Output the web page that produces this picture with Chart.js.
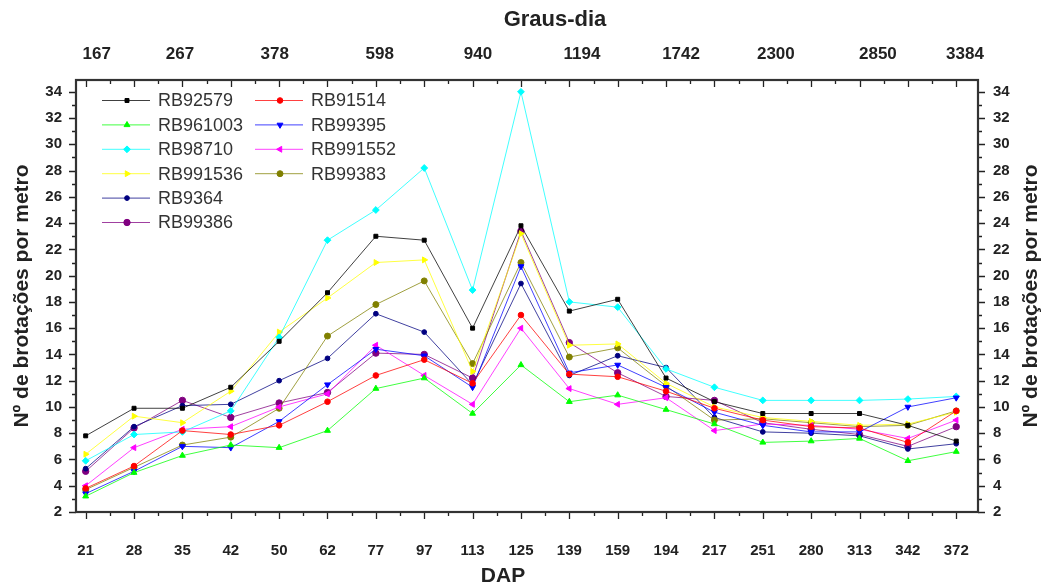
<!DOCTYPE html>
<html>
<head>
<meta charset="utf-8">
<script src="https://cdn.jsdelivr.net/npm/chart.js@4.4.1/dist/chart.umd.min.js"></script>
<style>
  html, body { margin: 0; padding: 0; background: #fff; }
  #wrap { width: 1043px; height: 588px; }
</style>
</head>
<body>
<div id="wrap"><canvas id="chart" width="1043" height="588"></canvas></div>
<script>
// DAP categories (bottom axis)
const dap = ['21', '28', '35', '42', '50', '62', '77', '97', '113', '125', '139', '159', '194', '217', '251', '280', '313', '342', '372'];

// Graus-dia labels (top axis) and where they fall along the DAP index axis
const grausDia = ['167', '267', '378', '598', '940', '1194', '1742', '2300', '2850', '3384'];
const grausAt = [0.23, 1.95, 3.91, 6.08, 8.11, 10.26, 12.31, 14.27, 16.38, 18.18];

// Nº de brotações por metro, one array per clone
const rb92579  = [7.8, 9.9, 9.9, 11.5, 15.0, 18.7, 23.0, 22.7, 16.0, 23.8, 17.3, 18.2, 12.2, 10.4, 9.5, 9.5, 9.5, 8.6, 7.4];
const rb91514  = [3.8, 5.5, 8.2, 7.9, 8.6, 10.4, 12.4, 13.6, 11.8, 17.0, 12.5, 12.3, 11.2, 9.9, 9.0, 8.5, 8.4, 7.3, 9.7];
const rb961003 = [3.2, 5.0, 6.3, 7.1, 6.9, 8.2, 11.4, 12.2, 9.5, 13.2, 10.4, 10.9, 9.8, 8.7, 7.3, 7.4, 7.6, 5.9, 6.6];
const rb99395  = [3.4, 5.1, 7.0, 6.9, 8.9, 11.7, 14.4, 13.9, 11.5, 20.7, 12.6, 13.2, 11.5, 9.6, 8.6, 8.1, 8.1, 10.0, 10.7];
const rb98710  = [5.9, 7.9, 8.1, 9.7, 15.3, 22.7, 25.0, 28.2, 18.9, 34.0, 18.0, 17.6, 12.9, 11.5, 10.5, 10.5, 10.5, 10.6, 10.8];
const rb991552 = [4.0, 6.9, 8.3, 8.5, 10.0, 11.0, 14.7, 12.4, 10.2, 16.0, 11.4, 10.2, 10.7, 8.2, 8.7, 8.6, 8.3, 7.6, 9.0];
const rb991536 = [6.4, 9.3, 8.8, 11.2, 15.7, 18.3, 21.0, 21.2, 12.7, 23.2, 14.7, 14.8, 11.8, 10.0, 9.2, 8.9, 8.6, 8.7, 9.6];
const rb99383  = [3.7, 5.4, 7.1, 7.7, 9.9, 15.4, 17.8, 19.6, 13.3, 21.0, 13.8, 14.5, 11.6, 9.0, 9.1, 8.8, 8.5, 8.6, 9.7];
const rb9364   = [5.3, 8.5, 10.1, 10.2, 12.0, 13.7, 17.1, 15.7, 11.7, 19.4, 12.4, 13.9, 13.0, 9.2, 8.1, 8.0, 7.8, 6.8, 7.2];
const rb99386  = [5.1, 8.4, 10.5, 9.2, 10.3, 11.1, 14.1, 14.0, 12.2, 23.4, 14.9, 12.6, 10.8, 10.5, 8.8, 8.3, 7.9, 7.0, 8.5];

// series in legend order (row by row)
const series = [
  { name: 'RB92579',  data: rb92579,  color: '#000000', style: 'rect',     rot: 0,   r: 2.8 },
  { name: 'RB91514',  data: rb91514,  color: '#ff0000', style: 'circle',   rot: 0,   r: 2.8 },
  { name: 'RB961003', data: rb961003, color: '#00ff00', style: 'triangle', rot: 0,   r: 3.4 },
  { name: 'RB99395',  data: rb99395,  color: '#0000ff', style: 'triangle', rot: 180, r: 3.4 },
  { name: 'RB98710',  data: rb98710,  color: '#00ffff', style: 'rectRot',  rot: 0,   r: 3.4 },
  { name: 'RB991552', data: rb991552, color: '#ff00ff', style: 'triangle', rot: -90, r: 3.4 },
  { name: 'RB991536', data: rb991536, color: '#ffff00', style: 'triangle', rot: 90,  r: 3.4 },
  { name: 'RB99383',  data: rb99383,  color: '#808000', style: 'circle',   rot: 0,   r: 3.0 },
  { name: 'RB9364',   data: rb9364,   color: '#000080', style: 'circle',   rot: 0,   r: 2.4 },
  { name: 'RB99386',  data: rb99386,  color: '#800080', style: 'circle',   rot: 0,   r: 3.2 }
];

const FONT = "'Liberation Sans', Arial, sans-serif";
const INK = '#222222';
const X_MIN = -0.2, X_MAX = 18.45;
const Y_MIN = 2, Y_MAX = 34.9;
const yTitle = 'Nº de brotações por metro';

function lineColor(hex) {
  const n = parseInt(hex.slice(1), 16);
  return `rgba(${n >> 16}, ${(n >> 8) & 255}, ${n & 255}, 0.75)`;
}

// frame, tick marks and axis titles
const frameTicks = {
  id: 'frameTicks',
  afterDraw(chart) {
    const { ctx, chartArea: a, scales } = chart;
    const x = scales.x, y = scales.y;
    ctx.save();
    ctx.strokeStyle = INK;
    ctx.lineWidth = 1.3;
    ctx.beginPath();
    for (let i = 0; i < dap.length; i++) {
      const steps = i < dap.length - 1 ? [[i, 7], [i + 0.5, 4]] : [[i, 7]];
      steps.forEach(([v, len]) => {
        const px = Math.round(x.getPixelForValue(v)) + 0.5;
        ctx.moveTo(px, a.bottom); ctx.lineTo(px, a.bottom + len);
        ctx.moveTo(px, a.top); ctx.lineTo(px, a.top + len);
      });
    }
    for (let v = Y_MIN; v <= 34; v++) {
      const len = v % 2 === 0 ? 7 : 4;
      const py = Math.round(y.getPixelForValue(v)) + 0.5;
      ctx.moveTo(a.left, py); ctx.lineTo(a.left - len, py);
      ctx.moveTo(a.right, py); ctx.lineTo(a.right + len, py);
    }
    ctx.stroke();
    ctx.lineWidth = 2.2;
    ctx.strokeStyle = '#333333';
    ctx.strokeRect(a.left, a.top, a.right - a.left, a.bottom - a.top);

    ctx.fillStyle = INK;
    ctx.textAlign = 'center';
    ctx.textBaseline = 'middle';
    ctx.font = 'bold 22px ' + FONT;
    ctx.fillText('Graus-dia', 555, 20);
    ctx.font = 'bold 21px ' + FONT;
    ctx.fillText('DAP', 503, 576);

    ctx.font = 'bold 21px ' + FONT;
    const midY = (a.top + a.bottom) / 2;
    [22, 1031].forEach(tx => {
      ctx.save();
      ctx.translate(tx, midY);
      ctx.rotate(-Math.PI / 2);
      ctx.fillText(yTitle, 0, 0);
      ctx.restore();
    });
    ctx.restore();
  }
};

// legend box in two columns, like the original
const legendBox = {
  id: 'legendBox',
  afterDatasetsDraw(chart) {
    const ctx = chart.ctx;
    ctx.save();
    ctx.font = '18px ' + FONT;
    ctx.textBaseline = 'middle';
    ctx.textAlign = 'left';
    series.forEach((s, i) => {
      const col = i < 8 ? i % 2 : 0;
      const row = i < 8 ? Math.floor(i / 2) : i - 4;
      const x0 = col === 0 ? 102 : 255;
      const yy = 100.5 + row * 24.4;
      ctx.strokeStyle = lineColor(s.color);
      ctx.lineWidth = 1;
      ctx.beginPath();
      ctx.moveTo(x0, yy); ctx.lineTo(x0 + 48, yy);
      ctx.stroke();
      ctx.fillStyle = s.color;
      ctx.strokeStyle = s.color;
      Chart.helpers.drawPoint(ctx, { pointStyle: s.style, rotation: s.rot, radius: s.r, borderWidth: 1 }, x0 + 25, yy);
      ctx.fillStyle = '#333333';
      ctx.fillText(s.name, x0 + 56, yy + 1);
    });
    ctx.restore();
  }
};

const datasets = series.map(s => ({
  label: s.name,
  data: s.data.map((v, i) => ({ x: i, y: v })),
  borderColor: lineColor(s.color),
  backgroundColor: s.color,
  pointBorderColor: s.color,
  borderWidth: 1,
  pointStyle: s.style,
  rotation: s.rot,
  pointRadius: s.r,
  pointBorderWidth: 1,
  tension: 0
}));

const tickFont = { family: FONT, size: 15, weight: 'bold' };

new Chart(document.getElementById('chart'), {
  type: 'line',
  data: { datasets },
  options: {
    responsive: false,
    animation: false,
    devicePixelRatio: 1,
    layout: { padding: 0 },
    plugins: { legend: { display: false }, tooltip: { enabled: false } },
    scales: {
      x: {
        type: 'linear', position: 'bottom', min: X_MIN, max: X_MAX,
        afterBuildTicks: s => { s.ticks = dap.map((d, i) => ({ value: i })); },
        afterFit: s => { s.height = 76; },
        ticks: { autoSkip: false, maxRotation: 0, padding: 30, color: INK, font: tickFont,
                 callback: v => dap[v] },
        grid: { display: false, drawTicks: false },
        border: { display: false }
      },
      x2: {
        type: 'linear', position: 'top', min: X_MIN, max: X_MAX,
        afterBuildTicks: s => { s.ticks = grausAt.map(v => ({ value: v })); },
        afterFit: s => { s.height = 80; },
        ticks: { autoSkip: false, maxRotation: 0, padding: 15, color: INK,
                 font: { family: FONT, size: 17, weight: 'bold' },
                 callback: (v, i) => grausDia[i] },
        grid: { display: false, drawTicks: false },
        border: { display: false }
      },
      y: {
        type: 'linear', position: 'left', min: Y_MIN, max: Y_MAX,
        afterBuildTicks: s => {
          const t = [];
          for (let v = 2; v <= 34; v += 2) t.push({ value: v });
          s.ticks = t;
        },
        afterFit: s => { s.width = 76; },
        ticks: { padding: 14, color: INK, font: tickFont },
        grid: { display: false, drawTicks: false },
        border: { display: false }
      },
      y2: {
        type: 'linear', position: 'right', min: Y_MIN, max: Y_MAX,
        afterBuildTicks: s => {
          const t = [];
          for (let v = 2; v <= 34; v += 2) t.push({ value: v });
          s.ticks = t;
        },
        afterFit: s => { s.width = 65; },
        ticks: { padding: 15, color: INK, font: tickFont },
        grid: { display: false, drawTicks: false },
        border: { display: false }
      }
    }
  },
  plugins: [legendBox, frameTicks]
});
</script>
</body>
</html>
